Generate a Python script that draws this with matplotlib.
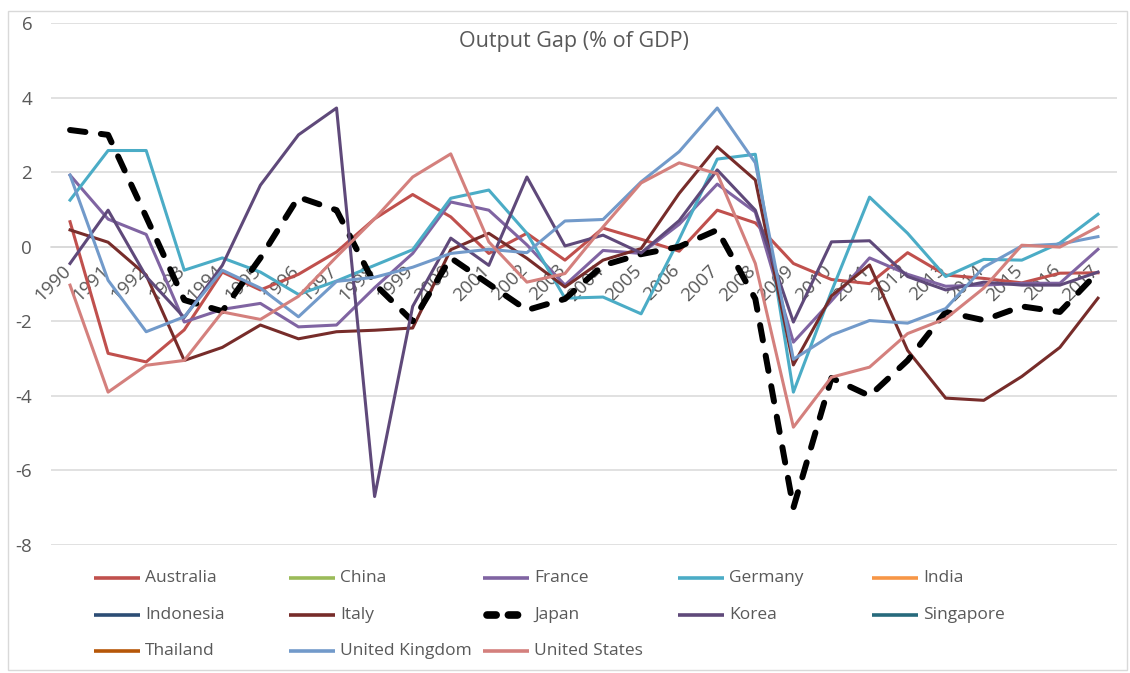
import matplotlib
matplotlib.use("Agg")
import matplotlib.pyplot as plt
import matplotlib.transforms as mtransforms
from matplotlib.lines import Line2D
from matplotlib.patches import Rectangle
import numpy as np

plt.rcParams['font.family'] = ['Open Sans', 'DejaVu Sans']

years = list(range(1990, 2018))
year_labels = [str(y) for y in years]

australia = [0.67, -2.86, -3.09, -2.23, -0.68, -1.16, -0.74, -0.14, 0.75, 1.40,
             0.80, -0.18, 0.36, -0.36, 0.50, 0.20, -0.12, 0.98, 0.64, -0.45,
             -0.88, -0.99, -0.16, -0.76, -0.85, -0.97, -0.71, -0.70]
france = [1.92, 0.74, 0.33, -2.02, -1.68, -1.52, -2.15, -2.10, -1.10, -0.18,
          1.20, 0.98, 0.05, -1.03, -0.10, -0.18, 0.60, 1.68, 0.93, -2.56,
          -1.45, -0.30, -0.74, -1.06, -1.03, -0.98, -0.98, -0.07]
germany = [1.25, 2.58, 2.58, -0.63, -0.30, -0.68, -1.28, -0.92, -0.50, -0.08,
           1.30, 1.52, 0.36, -1.38, -1.35, -1.80, 0.20, 2.35, 2.48, -3.90,
           -1.20, 1.33, 0.36, -0.80, -0.34, -0.36, 0.10, 0.87]
italy = [0.45, 0.12, -0.76, -3.05, -2.70, -2.10, -2.47, -2.28, -2.24, -2.18,
         -0.08, 0.36, -0.31, -1.08, -0.36, -0.05, 1.43, 2.68, 1.79, -3.17,
         -1.32, -0.49, -2.78, -4.06, -4.12, -3.48, -2.70, -1.38]
japan = [3.13, 3.00, 0.80, -1.43, -1.73, -0.30, 1.33, 0.98, -1.00, -2.00,
         -0.30, -1.00, -1.70, -1.40, -0.50, -0.20, 0.00, 0.45, -1.40, -7.00,
         -3.52, -4.00, -3.05, -1.75, -1.97, -1.60, -1.75, -0.68]
korea = [-0.45, 0.98, -0.80, -1.90, -0.50, 1.65, 3.00, 3.72, -6.70, -1.60,
         0.23, -0.50, 1.87, 0.02, 0.31, -0.17, 0.70, 2.06, 0.98, -2.02,
         0.13, 0.16, -0.80, -1.16, -0.95, -1.03, -1.03, -0.68]
united_kingdom = [1.92, -0.90, -2.28, -1.88, -0.63, -1.11, -1.88, -0.93, -0.82, -0.55,
                  -0.18, -0.07, -0.16, 0.69, 0.73, 1.74, 2.55, 3.72, 2.25, -3.02,
                  -2.37, -1.98, -2.05, -1.66, -0.55, 0.02, 0.07, 0.27]
united_states = [-1.03, -3.90, -3.18, -3.05, -1.75, -1.95, -1.33, -0.27, 0.75, 1.87,
                 2.49, 0.13, -0.95, -0.72, 0.53, 1.71, 2.25, 1.96, -0.45, -4.84,
                 -3.50, -3.23, -2.33, -1.93, -1.11, 0.04, -0.01, 0.53]
# series present in the legend only (no values plotted)
china = []
india = []
indonesia = []
singapore = []
thailand = []

series_names = ["Australia", "China", "France", "Germany", "India",
                "Indonesia", "Italy", "Japan", "Korea", "Singapore",
                "Thailand", "United Kingdom", "United States"]
series_values = [australia, china, france, germany, india,
                 indonesia, italy, japan, korea, singapore,
                 thailand, united_kingdom, united_states]
series_colors = ["#C0504D", "#9BBB59", "#8064A2", "#4BACC6", "#F79646",
                 "#2C4D75", "#772C2A", "#000000", "#5F497A", "#276A7C",
                 "#B65708", "#729ACA", "#D4807D"]

W, H = 1130, 673
fig = plt.figure(figsize=(W / 100, H / 100), dpi=100)

def fx(px):
    return px / W

def fy(py):
    return 1 - py / H

ax = fig.add_axes([fx(51), fy(545), fx(1117) - fx(51), fy(23) - fy(545)])

text_color = "#595959"
grid_color = "#D9D9D9"

# chart border
fig.add_artist(Rectangle((fx(8), fy(670)), fx(1127) - fx(8), fy(11) - fy(670),
                         transform=fig.transFigure, fill=False,
                         edgecolor=grid_color, linewidth=1.0))

x = np.arange(len(years))
for name, vals, col in zip(series_names, series_values, series_colors):
    if len(vals) == 0:
        continue
    if name == "Japan":
        ax.plot(x[:len(vals)], vals, color=col, linewidth=4.3,
                linestyle=(0, (2.6, 2.6)), dash_capstyle='round',
                solid_joinstyle='round', dash_joinstyle='round', zorder=3)
    else:
        ax.plot(x[:len(vals)], vals, color=col, linewidth=2.2,
                solid_joinstyle='round', zorder=3)

ax.set_xlim(-0.5, len(years) - 0.5)
ax.set_ylim(-8, 6)
ax.set_yticks(np.arange(-8, 7, 2))
ax.set_yticklabels([str(v) for v in range(-8, 7, 2)])
ax.yaxis.grid(True, color=grid_color, linewidth=1.1)
ax.set_axisbelow(True)
for s in ["left", "right", "top"]:
    ax.spines[s].set_visible(False)
ax.spines["bottom"].set_position(("data", 0))
ax.spines["bottom"].set_color(grid_color)
ax.spines["bottom"].set_linewidth(1.1)

ax.set_xticks(x)
ax.set_xticklabels(year_labels, rotation=45, ha="right", va="top",
                   rotation_mode="default")
ax.tick_params(axis="x", length=0, pad=10.5, labelsize=13.5, labelcolor=text_color)
ax.tick_params(axis="y", length=0, pad=13.5, labelsize=13.5, labelcolor=text_color)
offset = mtransforms.ScaledTranslation(4 / 100, 0, fig.dpi_scale_trans)
for lab in ax.get_xticklabels():
    lab.set_transform(lab.get_transform() + offset)

fig.text(fx(574), fy(41), "Output Gap (% of GDP)", ha="center", va="center",
         fontsize=15.5, color=text_color)

# legend (5 columns, row-major like the original)
col_line_x = [94, 289, 483, 678, 872]
row_y = [578, 615, 651]
for i, (name, col) in enumerate(zip(series_names, series_colors)):
    r, c = divmod(i, 5)
    x0 = col_line_x[c]
    y0 = row_y[r]
    if name == "Japan":
        ln = Line2D([fx(x0 + 4), fx(x0 + 41)], [fy(y0), fy(y0)], transform=fig.transFigure,
                    color=col, linewidth=5.5, linestyle=(0, (1.2, 1.6)),
                    dash_capstyle='round')
    else:
        ln = Line2D([fx(x0), fx(x0 + 46)], [fy(y0), fy(y0)], transform=fig.transFigure,
                    color=col, linewidth=2.6, solid_capstyle='butt')
    fig.add_artist(ln)
    fig.text(fx(x0 + 51), fy(y0), name, ha="left", va="center",
             fontsize=12.5, color=text_color)

fig.savefig("out.png", dpi=100)
